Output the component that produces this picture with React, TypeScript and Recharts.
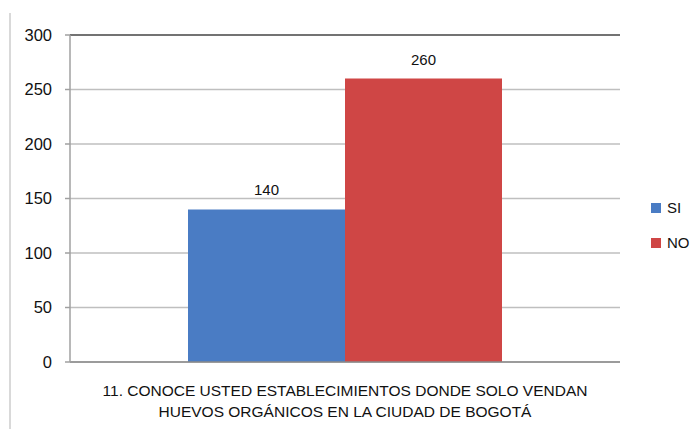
import React from "react";
import { BarChart, Bar, XAxis, YAxis, CartesianGrid, LabelList, ReferenceLine } from "recharts";

const categories = ["11. CONOCE USTED ESTABLECIMIENTOS DONDE SOLO VENDAN\nHUEVOS ORGÁNICOS EN LA CIUDAD DE BOGOTÁ"];
const siValues = [140];
const noValues = [260];
const yTicks = [0, 50, 100, 150, 200, 250, 300];
const seriesNames = ["SI", "NO"];
const seriesColors = ["#4a7cc4", "#cf4645"];

const data = categories.map((c, i) => ({ name: c, SI: siValues[i], NO: noValues[i] }));

const FONT = "'Liberation Sans', Arial, sans-serif";

const CategoryTick = (props: any) => {
  const { x, y, payload } = props;
  const lines = String(payload.value).split("\n");
  return (
    <g>
      {lines.map((l: string, i: number) => (
        <text key={i} x={x} y={y + 26 + i * 21} textAnchor="middle" fontSize={15.5} fill="#111" fontFamily={FONT}>
          {l}
        </text>
      ))}
    </g>
  );
};

export default function App() {
  return (
    <div style={{ position: "absolute", left: 0, top: 0, width: 699, height: 429, background: "#fff", fontFamily: FONT }}>
      <div style={{ position: "absolute", left: 9, top: 13, width: 2, height: 416, background: "#d9d9d9" }} />
      <BarChart
        width={699}
        height={429}
        data={data}
        margin={{ top: 35, right: 79, bottom: 0, left: 0 }}
        barCategoryGap={118}
        barGap={0}
      >
        <CartesianGrid vertical={false} stroke="#bfbfbf" strokeWidth={1.5} />
        <XAxis
          dataKey="name"
          tick={<CategoryTick />}
          tickLine={false}
          axisLine={{ stroke: "#8a8a8a", strokeWidth: 1.5 }}
          interval={0}
          height={67}
        />
        <YAxis
          domain={[0, 300]}
          ticks={yTicks}
          width={70}
          tickSize={5}
          tickMargin={13}
          tick={{ fontSize: 16.5, fill: "#111", fontFamily: FONT }}
          axisLine={{ stroke: "#a0a0a0", strokeWidth: 1.5 }}
          tickLine={{ stroke: "#a0a0a0", strokeWidth: 1.5 }}
        />
        <YAxis yAxisId="r" orientation="right" width={0} tick={false} tickLine={false} axisLine={{ stroke: "#555", strokeWidth: 1.5 }} />
        <ReferenceLine y={300} stroke="#555" strokeWidth={1.5} />
        {seriesNames.map((s, i) => (
          <Bar key={s} dataKey={s} fill={seriesColors[i]} isAnimationActive={false}>
            <LabelList dataKey={s} position="top" offset={14} fontSize={15} fill="#111" fontFamily={FONT} />
          </Bar>
        ))}
      </BarChart>
      {seriesNames.map((s, i) => (
        <div key={s} style={{ position: "absolute", left: 651, top: 199 + i * 35, display: "flex", alignItems: "center", fontSize: 15, color: "#111" }}>
          <div style={{ width: 10, height: 10, background: seriesColors[i], marginRight: 6 }} />
          <span>{s}</span>
        </div>
      ))}
    </div>
  );
}
